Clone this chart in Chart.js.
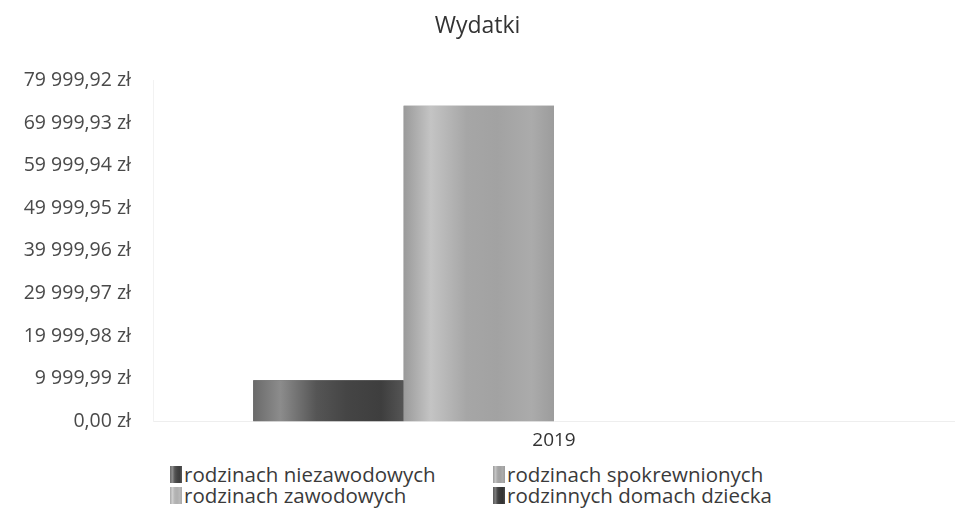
<!DOCTYPE html>
<html>
<head>
<meta charset="utf-8">
<script src="https://cdn.jsdelivr.net/npm/chart.js@4"></script>
<style>
  body { margin: 0; background: #fff; font-family: "Open Sans", sans-serif; overflow: hidden; }
  #wrap { position: relative; width: 955px; height: 510px; }
  #box { position: absolute; left: 0; top: 0; width: 955px; height: 452px; }
  #legend {
    position: absolute; left: 170px; top: 464px;
    display: grid; grid-template-columns: 323px 300px;
    font-size: 20.5px; color: #3a3a3a; line-height: 21px;
  }
  #legend .item { display: flex; align-items: center; white-space: nowrap; }
  #legend .sw { width: 12px; height: 17px; margin-right: 2px; }
</style>
</head>
<body>
<div id="wrap">
  <div id="box"><canvas id="wydatki"></canvas></div>
  <div id="legend"></div>
</div>
<script>
// =========================
// DATA
// =========================
const years = ["2019"];
const seriesNames = [
  "rodzinach niezawodowych",
  "rodzinach spokrewnionych",
  "rodzinach zawodowych",
  "rodzinnych domach dziecka"
];
const niezawodowe = [9600];
const spokrewnione = [74100];
const zawodowe = [0];
const domyDziecka = [0];
const yTicks = [0, 9999.99, 19999.98, 29999.97, 39999.96, 49999.95, 59999.94, 69999.93, 79999.92];

// shading stops per series (left -> right)
const shades = [
  ["#6a6a6a", "#8c8c8c", "#555", "#454545", "#3e3e3e", "#555"],
  ["#9a9a9a", "#c4c4c4", "#a6a6a6", "#a2a2a2", "#ababab", "#9c9c9c"],
  ["#a8a8a8", "#cfcfcf", "#b4b4b4", "#b0b0b0", "#b8b8b8", "#aaa"],
  ["#5a5a5a", "#7a7a7a", "#444", "#383838", "#333", "#484848"]
];

const fmt = v => v.toLocaleString("pl-PL", { minimumFractionDigits: 2, maximumFractionDigits: 2, useGrouping: true })
  .replace(/\u00a0|\u202f/g, " ") + " zł";

// gloss over each bar, using the bar elements from the library
const barShade = {
  id: "barShade",
  afterDatasetsDraw(chart) {
    const ctx = chart.ctx;
    chart.data.datasets.forEach((ds, i) => {
      const meta = chart.getDatasetMeta(i);
      meta.data.forEach(bar => {
        const { x, y, base, width } = bar.getProps(["x", "y", "base", "width"], true);
        if (Math.abs(base - y) < 1) return;
        const left = x - width / 2;
        const g = ctx.createLinearGradient(left, 0, left + width, 0);
        shades[i].forEach((c, k) => g.addColorStop([0, 0.18, 0.42, 0.62, 0.85, 1][k], c));
        ctx.save();
        ctx.fillStyle = g;
        ctx.fillRect(left, Math.min(y, base), width, Math.abs(base - y));
        ctx.restore();
      });
    });
  }
};

const values = [niezawodowe, spokrewnione, zawodowe, domyDziecka];

const chart = new Chart(document.getElementById("wydatki"), {
  type: "bar",
  data: {
    labels: years,
    datasets: seriesNames.map((name, i) => ({
      label: name,
      data: values[i],
      backgroundColor: shades[i][2],
      categoryPercentage: 0.75,
      barPercentage: 1
    }))
  },
  options: {
    responsive: true,
    maintainAspectRatio: false,
    animation: false,
    layout: { padding: { top: 13, right: 0, left: 0, bottom: 0 } },
    plugins: {
      legend: { display: false },
      tooltip: { enabled: false },
      title: {
        display: true,
        text: "Wydatki",
        color: "#333",
        font: { family: "Open Sans", size: 23, weight: "normal" },
        padding: { top: 0, bottom: 40 }
      }
    },
    scales: {
      x: {
        grid: { display: false },
        border: { display: true, color: "#eeeeee" },
        ticks: { color: "#333", font: { family: "Open Sans", size: 19 }, padding: 0 }
      },
      y: {
        min: 0,
        max: 79999.92,
        afterBuildTicks: s => { s.ticks = yTicks.map(v => ({ value: v })); },
        afterFit: s => { s.width = 153; },
        grid: { display: false },
        border: { display: true, color: "#f2f2f2" },
        ticks: {
          color: "#4a4a4a",
          font: { family: "Open Sans", size: 19.5 },
          padding: 14,
          callback: v => fmt(v)
        }
      }
    }
  },
  plugins: [barShade]
});

// =========================
// LEGEND (two columns)
// =========================
const legend = document.getElementById("legend");
[0, 1, 2, 3].forEach(i => {
  const item = document.createElement("div");
  item.className = "item";
  const sw = document.createElement("span");
  sw.className = "sw";
  sw.style.background = `linear-gradient(to right, ${shades[i].join(",")})`;
  item.appendChild(sw);
  item.appendChild(document.createTextNode(seriesNames[i]));
  legend.appendChild(item);
});
</script>
</body>
</html>
